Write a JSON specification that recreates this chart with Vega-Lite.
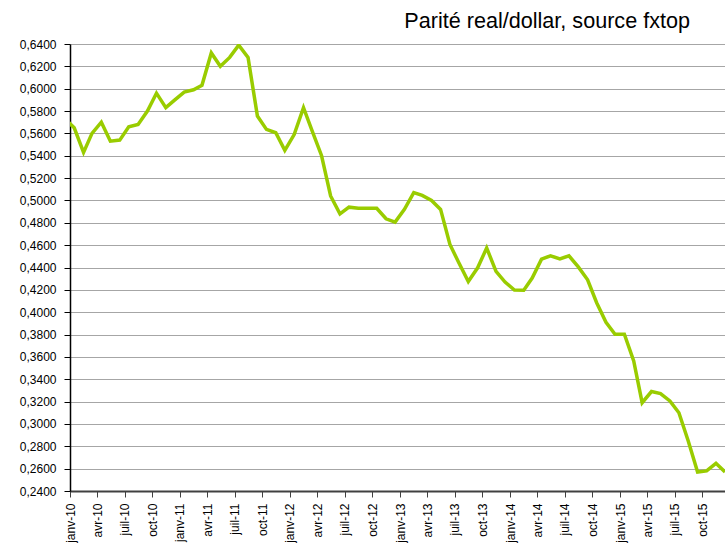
{
  "$schema": "https://vega.github.io/schema/vega-lite/v6.json",
  "autosize": {"type": "none"},
  "padding": {"left": 70, "top": 44, "right": 0, "bottom": 59},
  "width": 655,
  "height": 447,
  "background": "white",
  "title": {
    "text": "Parité real/dollar, source fxtop",
    "anchor": "end",
    "frame": "group",
    "orient": "top",
    "baseline": "alphabetic",
    "offset": 15,
    "dx": -35,
    "dy": 27,
    "font": "Liberation Sans",
    "fontSize": 21.6,
    "fontWeight": "normal",
    "color": "#000000"
  },
  "data": {
    "values": [
      {"date": "2009-12-15", "value": 0.573},
      {"date": "2010-01-15", "value": 0.565},
      {"date": "2010-02-15", "value": 0.543},
      {"date": "2010-03-15", "value": 0.560},
      {"date": "2010-04-15", "value": 0.570},
      {"date": "2010-05-15", "value": 0.553},
      {"date": "2010-06-15", "value": 0.554},
      {"date": "2010-07-15", "value": 0.566},
      {"date": "2010-08-15", "value": 0.568},
      {"date": "2010-09-15", "value": 0.580},
      {"date": "2010-10-15", "value": 0.596},
      {"date": "2010-11-15", "value": 0.583},
      {"date": "2010-12-15", "value": 0.590},
      {"date": "2011-01-15", "value": 0.597},
      {"date": "2011-02-15", "value": 0.599},
      {"date": "2011-03-15", "value": 0.603},
      {"date": "2011-04-15", "value": 0.632},
      {"date": "2011-05-15", "value": 0.620},
      {"date": "2011-06-15", "value": 0.628},
      {"date": "2011-07-15", "value": 0.639},
      {"date": "2011-08-15", "value": 0.628},
      {"date": "2011-09-15", "value": 0.5755},
      {"date": "2011-10-15", "value": 0.5636},
      {"date": "2011-11-15", "value": 0.5606},
      {"date": "2011-12-15", "value": 0.5448},
      {"date": "2012-01-15", "value": 0.559},
      {"date": "2012-02-15", "value": 0.583},
      {"date": "2012-03-15", "value": 0.562},
      {"date": "2012-04-15", "value": 0.540},
      {"date": "2012-05-15", "value": 0.504},
      {"date": "2012-06-15", "value": 0.488},
      {"date": "2012-07-15", "value": 0.494},
      {"date": "2012-08-15", "value": 0.493},
      {"date": "2012-09-15", "value": 0.493},
      {"date": "2012-10-15", "value": 0.493},
      {"date": "2012-11-15", "value": 0.4836},
      {"date": "2012-12-15", "value": 0.4806},
      {"date": "2013-01-15", "value": 0.492},
      {"date": "2013-02-15", "value": 0.507},
      {"date": "2013-03-15", "value": 0.5045},
      {"date": "2013-04-15", "value": 0.500},
      {"date": "2013-05-15", "value": 0.492},
      {"date": "2013-06-15", "value": 0.4606},
      {"date": "2013-07-15", "value": 0.444},
      {"date": "2013-08-15", "value": 0.4275},
      {"date": "2013-09-15", "value": 0.4397},
      {"date": "2013-10-15", "value": 0.4575},
      {"date": "2013-11-15", "value": 0.4365},
      {"date": "2013-12-15", "value": 0.427},
      {"date": "2014-01-15", "value": 0.4198},
      {"date": "2014-02-15", "value": 0.4197},
      {"date": "2014-03-15", "value": 0.4305},
      {"date": "2014-04-15", "value": 0.4475},
      {"date": "2014-05-15", "value": 0.4505},
      {"date": "2014-06-15", "value": 0.4476},
      {"date": "2014-07-15", "value": 0.4505},
      {"date": "2014-08-15", "value": 0.4405},
      {"date": "2014-09-15", "value": 0.429},
      {"date": "2014-10-15", "value": 0.4085},
      {"date": "2014-11-15", "value": 0.391},
      {"date": "2014-12-15", "value": 0.3803},
      {"date": "2015-01-15", "value": 0.3803},
      {"date": "2015-02-15", "value": 0.3564},
      {"date": "2015-03-15", "value": 0.319},
      {"date": "2015-04-15", "value": 0.329},
      {"date": "2015-05-15", "value": 0.3272},
      {"date": "2015-06-15", "value": 0.3206},
      {"date": "2015-07-15", "value": 0.310},
      {"date": "2015-08-15", "value": 0.2848},
      {"date": "2015-09-15", "value": 0.257},
      {"date": "2015-10-15", "value": 0.258},
      {"date": "2015-11-15", "value": 0.2648},
      {"date": "2015-12-15", "value": 0.257}
    ]
  },
  "mark": {"type": "line", "color": "#99cc00", "strokeWidth": 3.5, "clip": true, "strokeJoin": "miter"},
  "encoding": {
    "x": {
      "field": "date",
      "type": "temporal",
      "scale": {
        "type": "utc",
        "domain": [
          {"year": 2010, "month": 1, "date": 1, "utc": true},
          {"year": 2015, "month": 12, "date": 15, "utc": true}
        ]
      },
      "axis": {
        "title": null,
        "grid": false,
        "tickCount": {"interval": "month", "step": 3},
        "labelExpr": "['janv','févr','mars','avr','mai','juin','juil','août','sept','oct','nov','déc'][utcmonth(datum.value)] + '-' + utcFormat(datum.value, '%y')",
        "labelAngle": 270,
        "labelAlign": "right",
        "labelBaseline": "middle",
        "labelPadding": 6,
        "labelFont": "Liberation Sans",
        "labelFontSize": 12,
        "labelColor": "#000000",
        "labelOverlap": false,
        "labelFlush": false,
        "domainColor": "#404040",
        "domainWidth": 2,
        "tickColor": "#404040",
        "tickSize": 6,
        "tickWidth": 1
      }
    },
    "y": {
      "field": "value",
      "type": "quantitative",
      "scale": {"domain": [0.24, 0.64], "nice": false, "zero": false},
      "axis": {
        "title": null,
        "values": [0.24, 0.26, 0.28, 0.30, 0.32, 0.34, 0.36, 0.38, 0.40, 0.42, 0.44, 0.46, 0.48, 0.50, 0.52, 0.54, 0.56, 0.58, 0.60, 0.62, 0.64],
        "labelExpr": "replace(format(datum.value, '.4f'), '.', ',')",
        "labelFont": "Liberation Sans",
        "labelFontSize": 12,
        "labelColor": "#000000",
        "labelPadding": 8,
        "labelOverlap": false,
        "labelFlush": false,
        "domainColor": "#000000",
        "domainWidth": 1.5,
        "tickColor": "#000000",
        "tickSize": 6,
        "tickWidth": 1,
        "grid": true,
        "gridColor": "#a6a6a6",
        "gridWidth": 1
      }
    }
  },
  "config": {
    "view": {"stroke": null}
  }
}
